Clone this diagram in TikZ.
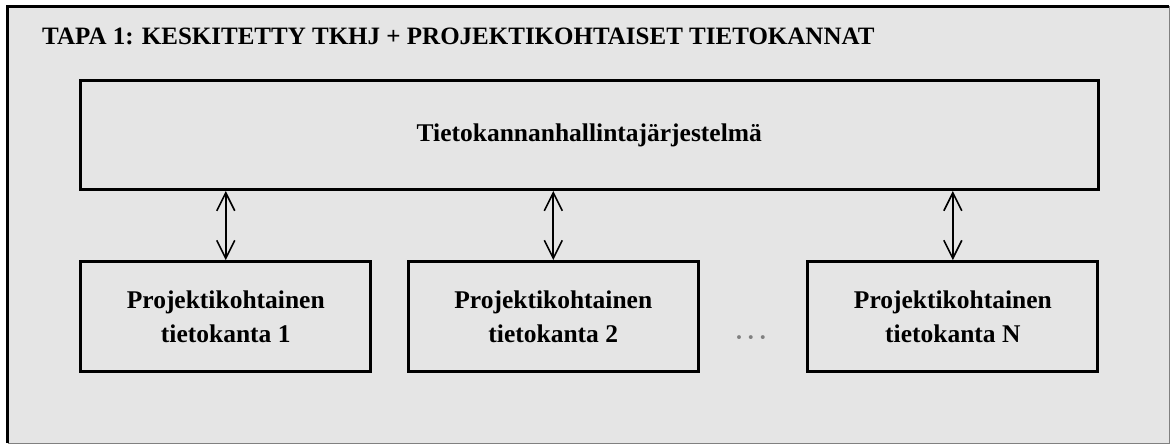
\documentclass[tikz,border=0pt]{standalone}
\usepackage{fontspec}
\setmainfont{Liberation Serif}
\usetikzlibrary{arrows.meta}
\definecolor{panel}{HTML}{E5E5E5}
\definecolor{rim}{HTML}{808080}
\begin{document}
\begin{tikzpicture}[x=1pt,y=-1pt,
  box/.style={draw=black,line width=3pt,fill=panel,rectangle,inner sep=0pt,
    minimum width=290pt,minimum height=110pt,align=center,
    font=\fontsize{25.5}{34}\selectfont\bfseries},
  link/.style={line width=2pt,{Straight Barb[length=18pt,width=18pt,line width=1.6pt]}-{Straight Barb[length=18pt,width=18pt,line width=1.6pt]}}]
  \useasboundingbox (0,0) rectangle (1171,444);
  % panel with heavy top/left edge and light bottom/right edge
  \fill[panel] (7.5,6.5) rectangle (1169,443);
  \draw[rim,line width=1pt] (7.5,443) -- (1169,443) -- (1169,6.5);
  \draw[black,line width=3pt] (7.5,443) -- (7.5,6.5) -- (1169,6.5);
  % heading
  \node[anchor=base west,inner sep=0pt,font=\fontsize{25}{30}\selectfont\bfseries] (title) at (42,45)
    {TAPA 1: KESKITETTY TKHJ + PROJEKTIKOHTAISET TIETOKANNAT};
  % database management system
  \node[box,minimum width=1017.5pt,minimum height=109pt] (dbms) at (589.25,135) {Tietokannanhallintajärjestelmä};
  % project databases
  \node[box] (db1) at (225.75,316.6) {Projektikohtainen\\tietokanta 1};
  \node[box] (db2) at (553.3,316.6) {Projektikohtainen\\tietokanta 2};
  \node[box] (dbN) at (952.85,316.6) {Projektikohtainen\\tietokanta N};
  \node[text=rim,font=\fontsize{24}{30}\selectfont\bfseries] (dots) at (751,341) {·\,·\,·};
  % connections
  \foreach \d in {db1,db2,dbN}
    \draw[link] (\d.north |- dbms.south) -- (\d.north);
\end{tikzpicture}
\end{document}
